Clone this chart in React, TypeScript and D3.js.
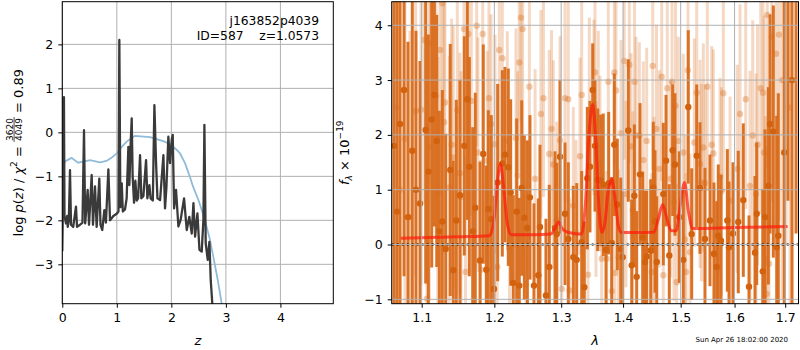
import React, { useEffect, useRef } from "react";
import * as d3 from "d3";

// ---- left panel: redshift probability ----
const pzZ = [
  0.0, 0.008, 0.016, 0.024, 0.03, 0.04, 0.068, 0.09, 0.1, 0.12, 0.141, 0.16, 0.2, 0.251, 0.27,
  0.325, 0.37, 0.398, 0.42, 0.465, 0.49, 0.539, 0.563, 0.6, 0.63, 0.679, 0.7, 0.733, 0.771,
  0.8, 0.845, 0.875, 0.936, 0.998, 1.03, 1.046, 1.065, 1.09, 1.11, 1.15, 1.18, 1.212, 1.23,
  1.255, 1.273, 1.29, 1.316, 1.34, 1.364, 1.39, 1.426, 1.45, 1.487, 1.536, 1.56, 1.597, 1.62,
  1.66, 1.689, 1.72, 1.745, 1.793, 1.854, 1.884, 1.91, 1.945, 1.976, 2.007, 2.025, 2.05,
  2.086, 2.129, 2.17, 2.233, 2.282, 2.33, 2.374, 2.405, 2.435, 2.478, 2.515, 2.557, 2.588,
  2.606, 2.63, 2.667, 2.698, 2.722, 2.753, 2.77,
];
const pzLogp = [
  -2.7, -2.0, 0.78, -1.2, 0.8, -1.9, -2.07, -1.9, -2.15, -2.0, -0.86, -2.1, -2.15, -1.69, -2.15,
  -2.1, -2.05, 0.05, -2.07, -1.31, -2.1, -0.97, -2.1, -1.23, -2.15, -1.05, -2.1, -2.22, -1.77,
  -2.05, -0.84, -2.0, -1.9, -1.85, -1.8, 2.1, -1.7, -1.16, -1.8, -1.75, -1.5, -0.33, -1.2,
  -0.21, 0.32, -1.0, -1.6, -1.1, -1.55, -1.5, -0.52, -1.5, -1.45, -0.63, -1.5, -1.2, -1.5,
  -1.55, 0.62, -0.71, -1.5, -1.54, -0.52, -1.73, -1.24, -0.1, -0.7, -0.17, -0.06, -1.73,
  -1.31, -2.14, -1.99, -1.5, -2.22, -1.92, -2.3, -1.61, -2.37, -1.84, -2.67, -2.71, -1.99,
  0.17, -2.52, -2.9, -2.49, -3.36, -3.93, -4.3,
];
const priorZ = [
  0.0, 0.05, 0.17, 0.29, 0.4, 0.51, 0.69, 0.81, 0.9, 1.0, 1.09, 1.18, 1.33, 1.61, 1.85, 1.98,
  2.1, 2.16, 2.25, 2.34, 2.4, 2.5, 2.6, 2.7, 2.77, 2.85, 2.92, 2.96,
];
const priorLogp = [
  -0.85, -0.66, -0.58, -0.69, -0.66, -0.63, -0.68, -0.65, -0.58, -0.48, -0.33, -0.21, -0.08,
  -0.11, -0.2, -0.27, -0.4, -0.48, -0.7, -1.01, -1.24, -1.55, -1.93, -2.4, -2.83, -3.35, -3.87, -4.2,
];

// ---- right panel: 1D spectrum ----
const darkWave = [
  1.0641, 1.068, 1.0718, 1.077, 1.0821, 1.0877, 1.0925, 1.0978, 1.1053, 1.1088, 1.1133, 1.1168,
  1.12, 1.1235, 1.1275, 1.1321, 1.1383, 1.1424, 1.1466, 1.1516, 1.1576, 1.1618, 1.1646, 1.1693,
  1.1729, 1.1796, 1.1842, 1.1885, 1.1914, 1.1956, 1.1995, 1.2048, 1.2115, 1.2154, 1.2202,
  1.2237, 1.2275, 1.2325, 1.2364, 1.24, 1.2439, 1.2484, 1.2523, 1.2583, 1.2649, 1.2674, 1.2765,
  1.2816, 1.2904, 1.2931, 1.2982, 1.306, 1.3111, 1.319, 1.3244, 1.3323, 1.3365, 1.3413, 1.3456,
  1.35, 1.3537, 1.3581, 1.3629, 1.3672, 1.3717, 1.3761, 1.3811, 1.3854, 1.3904, 1.3961, 1.3994,
  1.4088, 1.4146, 1.419, 1.423, 1.4287, 1.4333, 1.4373, 1.4402, 1.4471, 1.4516, 1.4546, 1.4576,
  1.4691, 1.4739, 1.4797, 1.4857, 1.4898, 1.4975, 1.5047, 1.5137, 1.5199, 1.5291, 1.5351,
  1.5443, 1.5536, 1.561, 1.5661, 1.5691, 1.5742, 1.5862, 1.5894, 1.597, 1.6071, 1.6168, 1.6279,
  1.6396, 1.643, 1.6549, 1.6594, 1.666, 1.6694, 1.676, 1.6828, 1.686, 1.6981, 1.7057, 1.7139,
  1.7222,
];
const darkFlux = [
  1.8, 0.6, 2.2, 2.82, 0.5, 1.71, 1.0, 0.75, 2.09, 1.33, 2.28, 2.73, 1.89, 0.24, 0.42, -0.08,
  1.36, -0.47, 0.44, 0.9, 1.8, 2.65, 1.42, 0.24, 0.67, -0.29, 1.65, -0.46, 0.65, 0.46, -0.81,
  1.13, 1.48, 1.64, 1.41, 0.95, -0.7, 0.6, -0.75, 1.03, 0.49, 0.3, 0.86, -0.75, -0.56, 0.32,
  -0.93, -0.41, 0.3, 0.19, 1.6, 0.56, 0.1, -0.23, -0.28, 0.04, -0.78, 1.21, 1.42, 2.82, 1.8,
  1.18, 1.17, 1.09, -0.1, 1.12, 0.03, 1.82, 0.73, -0.08, -0.23, 2.08, -0.38, 0.89, -0.59, 1.28,
  0.13, -0.32, -0.22, -0.11, 1.04, 0.42, -0.32, 0.92, 1.53, -0.2, 1.72, 1.46, 0.5, -0.28, 2.51,
  0.19, 1.62, 1.03, 0.1, 0.44, -0.17, -0.41, 0.16, 0.07, 0.44, -0.05, 0.2, 0.41, 0.81, -0.77,
  -0.15, 0.56, -0.49, 0.5, 1.07, 2.2, 2.06, -0.05, 0.16, 1.68, 4.6, 3.0, 5.0,
];
const darkErr = [
  4.0, 4.2, 3.6, 3.4, 3.2, 3.0, 2.9, 2.6, 2.8, 2.5, 2.7, 2.4, 2.3, 2.2, 2.4, 2.1, 2.3, 2.0, 2.2,
  2.1, 2.0, 2.2, 2.0, 1.9, 2.1, 1.8, 2.0, 1.9, 1.8, 1.9, 1.7, 1.8, 1.7, 1.6, 1.8, 1.7, 1.6, 1.7,
  1.6, 1.6, 1.5, 1.6, 1.5, 1.5, 1.4, 1.5, 1.4, 1.5, 1.4, 1.3, 1.4, 1.3, 1.4, 1.3, 1.4, 1.3, 1.2,
  1.3, 1.2, 0.85, 1.2, 1.3, 1.2, 1.3, 1.2, 1.3, 1.2, 1.3, 1.2, 1.3, 1.2, 1.3, 1.2, 1.3, 1.2, 1.3,
  1.2, 1.3, 1.2, 1.3, 1.2, 1.3, 1.2, 1.3, 1.2, 1.3, 1.2, 1.3, 1.2, 1.3, 1.4, 1.2, 1.3, 1.2, 1.3,
  1.2, 1.3, 1.2, 1.3, 1.2, 1.3, 1.2, 1.3, 1.3, 1.4, 1.3, 1.4, 1.3, 1.5, 1.6, 1.8, 2.0, 2.3, 2.4,
  2.6, 2.9, 3.8, 4.5, 4.8,
];
const lightWave = [
  1.0667, 1.0718, 1.0782, 1.0847, 1.0921, 1.0991, 1.1035, 1.107, 1.1101, 1.1119, 1.119, 1.1213,
  1.1244, 1.1275, 1.1298, 1.1311, 1.1369, 1.1402, 1.1424, 1.1479, 1.1516, 1.153, 1.1572, 1.1593,
  1.1632, 1.1673, 1.1749, 1.1767, 1.1803, 1.1834, 1.1899, 1.1923, 1.1952, 1.2009, 1.2042,
  1.2071, 1.2115, 1.2188, 1.222, 1.2315, 1.234, 1.2364, 1.2389, 1.2414, 1.2464, 1.2514, 1.26,
  1.2689, 1.2727, 1.2816, 1.285, 1.2878, 1.2931, 1.2982, 1.3009, 1.306, 1.3111, 1.313, 1.319,
  1.3233, 1.3296, 1.3323, 1.3424, 1.3445, 1.3521, 1.3537, 1.3553, 1.359, 1.3618, 1.3646,
  1.3728, 1.3755, 1.3811, 1.3854, 1.3865, 1.3882, 1.3924, 1.3966, 1.402, 1.4049, 1.4105,
  1.4134, 1.4163, 1.4194, 1.4218, 1.4275, 1.4344, 1.4402, 1.4489, 1.4506, 1.4529, 1.4572,
  1.4621, 1.4663, 1.4691, 1.4761, 1.4821, 1.4845, 1.488, 1.4907, 1.4929, 1.4957, 1.5047,
  1.5078, 1.5096, 1.5132, 1.5168, 1.5247, 1.5291, 1.5351, 1.5379, 1.5412, 1.5443, 1.5486,
  1.5568, 1.5598, 1.5723, 1.5752, 1.5786, 1.5913, 1.6052, 1.6104, 1.6215, 1.6298, 1.6351,
  1.6416, 1.6446, 1.6509, 1.6555, 1.6575, 1.6604, 1.6628, 1.664, 1.6674, 1.6728, 1.6814,
  1.6874, 1.6936, 1.7017, 1.7098,
];
const lightFlux = [
  2.5, 1.0, 1.93, 0.5, 2.43, 2.46, 3.73, -0.99, 1.77, 3.67, 2.71, 0.92, 3.55, 4.4, 2.23, 2.59,
  1.04, 1.82, 1.59, 2.45, 1.3, 0.86, 3.93, -0.5, 3.84, 2.62, 3.99, 1.68, -0.46, 3.84, 1.53, 2.67,
  2.2, 1.83, -0.41, 3.55, 3.4, 1.89, -0.05, 1.94, 1.26, 3.32, 4.14, 3.93, -0.72, 2.88, 1.2, 2.38,
  2.67, 1.65, 2.11, 1.46, 0.44, 1.9, -0.81, 2.67, 2.65, -0.84, 0.71, 0.21, 1.61, 2.73, -0.55,
  2.44, 2.5, 3.14, 1.01, 2.2, 1.48, -0.26, -0.26, 2.97, -0.85, 3.14, -0.52, 2.81, -0.23, 2.03,
  3.35, 0.92, 3.28, 1.79, 0.63, 2.97, 1.99, 1.99, 1.54, 1.89, -0.5, 3.26, 0.53, 2.11, 1.38, 3.06,
  -0.56, 2.85, 1.2, 2.97, 0.77, 2.53, -0.69, 1.89, 1.68, 0.09, -0.5, 3.18, -0.14, 1.86, 2.77,
  1.47, 1.13, 1.77, 1.12, 2.88, 1.82, 1.66, 1.24, 0.97, 2.76, 0.8, 1.38, 2.38, 2.65, 1.07, 1.99,
  0.92, 1.82, 2.85, 2.77, 1.68, -0.26, -0.9, 4.19, -0.35, 3.79, 3.48, 3.83, 3.0, 4.5, 2.5,
];
const lightErr = [
  4.0, 3.8, 3.5, 3.4, 3.0, 3.2, 3.0, 2.6, 2.8, 2.7, 2.6, 2.5, 2.6, 2.5, 2.4, 2.5, 2.4, 2.3, 2.4,
  2.3, 2.2, 2.3, 2.2, 2.1, 2.2, 2.1, 2.2, 2.1, 2.0, 2.1, 2.0, 2.1, 2.0, 2.0, 1.9, 2.0, 1.9, 2.0,
  1.9, 2.0, 1.9, 2.0, 1.9, 2.0, 1.8, 1.9, 2.0, 1.9, 1.8, 1.9, 1.8, 1.9, 1.8, 1.9, 1.8, 1.9, 1.8,
  1.7, 1.8, 1.7, 1.8, 1.7, 1.8, 1.7, 1.6, 1.7, 1.6, 1.7, 1.6, 1.7, 1.6, 1.7, 1.6, 1.7, 1.6, 1.7,
  1.6, 1.7, 1.8, 1.7, 1.8, 1.7, 1.8, 1.7, 1.8, 1.7, 1.8, 1.7, 1.8, 1.9, 1.8, 1.9, 1.8, 1.9, 1.8,
  1.9, 1.8, 1.9, 1.8, 1.9, 1.8, 1.9, 1.8, 1.9, 1.8, 1.9, 1.8, 1.9, 1.8, 1.9, 1.8, 1.9, 1.8, 1.9,
  1.8, 1.9, 1.8, 1.9, 1.8, 1.9, 1.9, 2.0, 2.0, 2.1, 2.1, 2.2, 2.2, 2.3, 2.4, 2.5, 2.6, 2.7, 2.8,
  2.9, 3.0, 3.2, 3.4, 4.0, 4.5, 5.0,
];
const modelWave = [
  1.073, 1.15, 1.193, 1.1995, 1.2045, 1.2086, 1.213, 1.218, 1.224, 1.26, 1.284, 1.29, 1.296,
  1.301, 1.307, 1.32, 1.332, 1.338, 1.344, 1.35, 1.355, 1.36, 1.365, 1.37, 1.375, 1.381, 1.387,
  1.392, 1.397, 1.43, 1.453, 1.46, 1.468, 1.476, 1.483, 1.492, 1.499, 1.507, 1.514, 1.522, 1.6,
  1.705,
];
const modelFlux = [
  0.115, 0.14, 0.16, 0.45, 1.15, 1.47, 1.1, 0.45, 0.18, 0.18, 0.19, 0.29, 0.41, 0.3, 0.24, 0.2,
  0.19, 0.7, 2.0, 2.56, 1.9, 0.7, 0.22, 0.4, 0.95, 1.2, 0.8, 0.35, 0.22, 0.22, 0.23, 0.45, 0.73,
  0.45, 0.25, 0.25, 0.7, 1.13, 0.6, 0.29, 0.31, 0.33,
];

const zTicks = [0, 1, 2, 3, 4];
const pzTicks = [-3, -2, -1, 0, 1, 2];
const waveTicks = [1.1, 1.2, 1.3, 1.4, 1.5, 1.6, 1.7];
const fluxTicks = [-1, 0, 1, 2, 3, 4];

const FONT = "DejaVu Sans, sans-serif";
const ORANGE = "#d96c1c";

const App: React.FC = () => {
  const svgRef = useRef<SVGSVGElement>(null);

  useEffect(() => {
    if (!svgRef.current) return;
    const svg = d3.select(svgRef.current);
    svg.selectAll("*").remove();
    svg.attr("font-family", FONT);

    const L = { x0: 62.3, x1: 333.3, y0: 1.7, y1: 303.7 };
    const R = { x0: 391.7, x1: 798.5, y0: 1.7, y1: 303.7 };

    const xz = d3.scaleLinear().domain([0, 4.97]).range([L.x0, L.x1]);
    const yp = d3.scaleLinear().domain([-3.895, 2.97]).range([L.y1, L.y0]);
    const xw = d3.scaleLog().domain([1.0612, 1.7273]).range([R.x0, R.x1]);
    const yf = d3.scaleLinear().domain([-1.08, 4.43]).range([R.y1, R.y0]);

    const defs = svg.append("defs");
    defs.append("clipPath").attr("id", "clipL")
      .append("rect").attr("x", L.x0).attr("y", L.y0).attr("width", L.x1 - L.x0).attr("height", L.y1 - L.y0);
    defs.append("clipPath").attr("id", "clipR")
      .append("rect").attr("x", R.x0).attr("y", R.y0).attr("width", R.x1 - R.x0).attr("height", R.y1 - R.y0);

    const grid = (g: d3.Selection<SVGGElement, unknown, null, undefined>, xs: number[], ys: number[], box: typeof L) => {
      g.selectAll(".gx").data(xs).enter().append("line")
        .attr("x1", (d) => d).attr("x2", (d) => d).attr("y1", box.y0).attr("y2", box.y1)
        .attr("stroke", "#b0b0b0").attr("stroke-width", 1);
      g.selectAll(".gy").data(ys).enter().append("line")
        .attr("y1", (d) => d).attr("y2", (d) => d).attr("x1", box.x0).attr("x2", box.x1)
        .attr("stroke", "#b0b0b0").attr("stroke-width", 1);
    };

    // ---------- left panel ----------
    const gl = svg.append("g");
    grid(gl, zTicks.map(xz), pzTicks.map(yp), L);

    const pl = gl.append("g").attr("clip-path", "url(#clipL)");
    const lineL = d3.line<number>();
    pl.append("path")
      .attr("d", lineL(priorZ.map((z, i) => [xz(z), yp(priorLogp[i])]) as any))
      .attr("fill", "none").attr("stroke", "#8fbbd9").attr("stroke-width", 1.8);
    pl.append("path")
      .attr("d", lineL(pzZ.map((z, i) => [xz(z), yp(pzLogp[i])]) as any))
      .attr("fill", "none").attr("stroke", "#3a3a3a").attr("stroke-width", 2.3)
      .attr("stroke-linejoin", "round");

    gl.append("rect").attr("x", L.x0).attr("y", L.y0).attr("width", L.x1 - L.x0).attr("height", L.y1 - L.y0)
      .attr("fill", "none").attr("stroke", "#000").attr("stroke-width", 1);

    const axL = gl.append("g").attr("transform", `translate(0,${L.y1})`)
      .call(d3.axisBottom(xz).tickValues(zTicks).tickSize(4).tickPadding(5).tickSizeOuter(0).tickFormat(d3.format("d")));
    const ayL = gl.append("g").attr("transform", `translate(${L.x0},0)`)
      .call(d3.axisLeft(yp).tickValues(pzTicks).tickSize(4).tickPadding(5).tickSizeOuter(0).tickFormat(d3.format("d")));

    // ---------- right panel ----------
    const gr = svg.append("g");
    const pr = gr.append("g").attr("clip-path", "url(#clipR)");

    const drawErr = (waves: number[], flux: number[], err: number[], op: number, dotOp: number, dotColor: string) => {
      const g = pr.append("g");
      g.selectAll("line").data(waves).enter().append("line")
        .attr("x1", (d) => xw(d)).attr("x2", (d) => xw(d))
        .attr("y1", (d, i) => yf(flux[i] - err[i])).attr("y2", (d, i) => yf(flux[i] + err[i]))
        .attr("stroke", ORANGE).attr("stroke-width", 3).attr("opacity", op);
      g.selectAll("circle").data(waves).enter().append("circle")
        .attr("cx", (d) => xw(d)).attr("cy", (d, i) => yf(flux[i]))
        .attr("r", 3.2).attr("fill", dotColor).attr("opacity", dotOp);
    };
    drawErr(lightWave, lightFlux, lightErr, 0.26, 0.35, ORANGE);
    drawErr(darkWave, darkFlux, darkErr, 0.95, 1, "#d2620e");

    grid(gr, waveTicks.map(xw), fluxTicks.map(yf), R);

    const lineR = d3.line<number>().curve(d3.curveMonotoneX);
    pr.append("path")
      .attr("d", lineR(modelWave.map((w, i) => [xw(w), yf(modelFlux[i])]) as any))
      .attr("fill", "none").attr("stroke", "#ff1a0a").attr("stroke-width", 3).attr("opacity", 0.7);

    pr.append("line").attr("x1", R.x0).attr("x2", R.x1).attr("y1", yf(0)).attr("y2", yf(0))
      .attr("stroke", "#000").attr("stroke-width", 2).attr("stroke-dasharray", "2,3");

    gr.append("rect").attr("x", R.x0).attr("y", R.y0).attr("width", R.x1 - R.x0).attr("height", R.y1 - R.y0)
      .attr("fill", "none").attr("stroke", "#000").attr("stroke-width", 1);

    const axR = gr.append("g").attr("transform", `translate(0,${R.y1})`)
      .call(d3.axisBottom(xw).tickValues(waveTicks).tickSize(4).tickPadding(5).tickSizeOuter(0).tickFormat(d3.format(".1f")));
    const ayR = gr.append("g").attr("transform", `translate(${R.x0},0)`)
      .call(d3.axisLeft(yf).tickValues(fluxTicks).tickSize(4).tickPadding(5).tickSizeOuter(0).tickFormat(d3.format("d")));

    [axL, ayL, axR, ayR].forEach((a) => {
      a.select(".domain").remove();
      a.selectAll("text").attr("font-size", 12.5).attr("font-family", FONT).attr("fill", "#000");
      a.selectAll("line").attr("stroke", "#000");
    });

    // ---------- texts ----------
    const title = svg.append("g").attr("font-size", 12.3).attr("text-anchor", "end");
    title.append("text").attr("x", 319).attr("y", 25).text("j163852p4039");
    title.append("text").attr("x", 319).attr("y", 39.5).style("white-space", "pre").text("ID=587    z=1.0573");

    svg.append("text").attr("x", (L.x0 + L.x1) / 2).attr("y", 344.5).attr("text-anchor", "middle")
      .attr("font-size", 13).attr("font-style", "italic").text("z");
    svg.append("text").attr("x", (R.x0 + R.x1) / 2).attr("y", 344.5).attr("text-anchor", "middle")
      .attr("font-size", 13).attr("font-style", "italic").text("λ");

    svg.append("text").attr("x", 788).attr("y", 342).attr("text-anchor", "end")
      .attr("font-size", 7).text("Sun Apr 26 18:02:00 2020");

    // left y label with stacked fraction
    const lab = svg.append("g")
      .attr("transform", `translate(22.7,${(L.y0 + L.y1) / 2}) rotate(-90)`)
      .attr("font-size", 13);
    const a = lab.append("text").style("white-space", "pre");
    a.append("tspan").text("log ");
    a.append("tspan").attr("font-style", "italic").text("p");
    a.append("tspan").text("(");
    a.append("tspan").attr("font-style", "italic").text("z");
    a.append("tspan").text(") / ");
    a.append("tspan").attr("font-style", "italic").text("χ");
    a.append("tspan").attr("font-size", 9).attr("dy", -5.5).text("2");
    a.append("tspan").attr("dy", 5.5).text(" = ");
    const num = lab.append("text").attr("font-size", 9).attr("text-anchor", "middle").attr("y", -10).text("3620");
    const den = lab.append("text").attr("font-size", 9).attr("text-anchor", "middle").attr("y", -0.8).text("4049");
    const b = lab.append("text").style("white-space", "pre").text(" = 0.89");
    const wa = (a.node() as SVGTextElement).getComputedTextLength();
    const wf = Math.max(
      (num.node() as SVGTextElement).getComputedTextLength(),
      (den.node() as SVGTextElement).getComputedTextLength()
    ) + 2;
    const wb = (b.node() as SVGTextElement).getComputedTextLength();
    const start = -(wa + wf + wb) / 2;
    a.attr("x", start);
    num.attr("x", start + wa + wf / 2);
    den.attr("x", start + wa + wf / 2);
    lab.append("line").attr("x1", start + wa).attr("x2", start + wa + wf)
      .attr("y1", -8.6).attr("y2", -8.6).attr("stroke", "#000").attr("stroke-width", 0.7);
    b.attr("x", start + wa + wf);

    // right y label
    const rl = svg.append("g")
      .attr("transform", `translate(348.5,${(R.y0 + R.y1) / 2}) rotate(-90)`)
      .attr("font-size", 13);
    const t = rl.append("text").attr("text-anchor", "middle").style("white-space", "pre");
    t.append("tspan").attr("font-style", "italic").text("f");
    t.append("tspan").attr("font-style", "italic").attr("font-size", 9).attr("dy", 3).text("λ");
    t.append("tspan").attr("dy", -3).text(" × 10");
    t.append("tspan").attr("font-size", 9).attr("dy", -5.5).text("−19");

    return () => {
      svg.selectAll("*").remove();
    };
  }, []);

  return (
    <svg
      ref={svgRef}
      width={800}
      height={350}
      style={{ position: "absolute", left: 0, top: 0, background: "#fff" }}
    />
  );
};

export default App;
